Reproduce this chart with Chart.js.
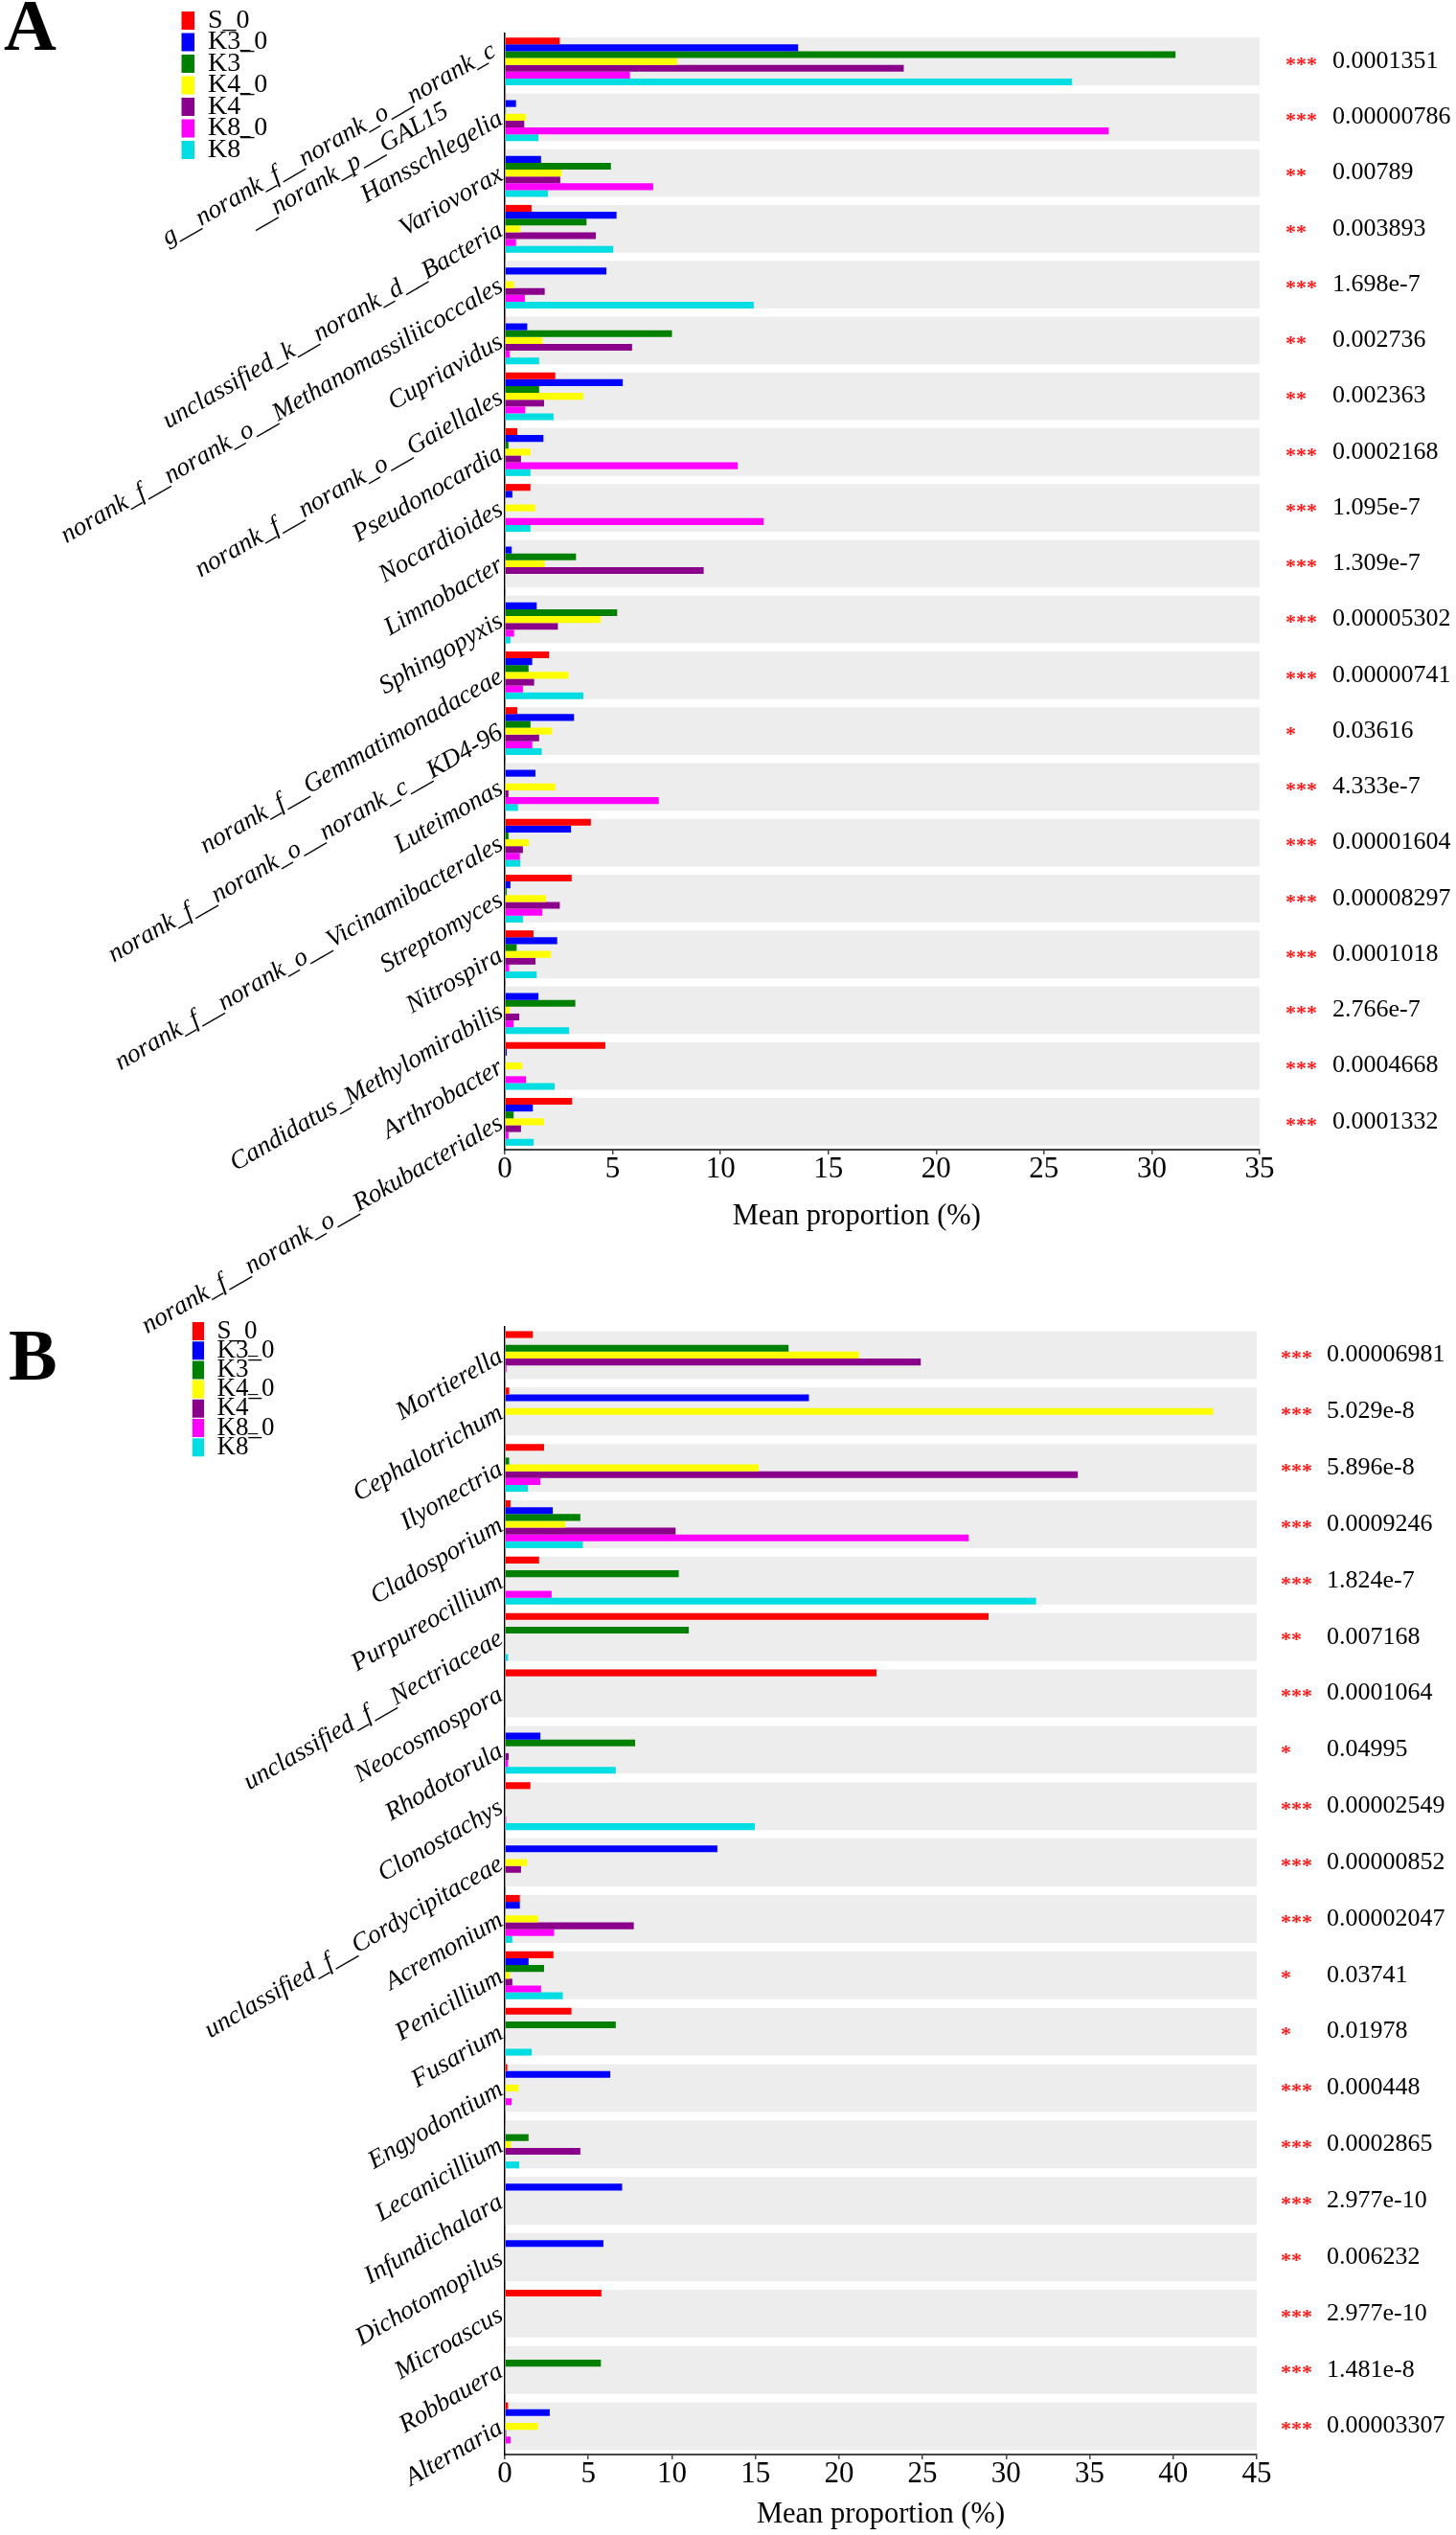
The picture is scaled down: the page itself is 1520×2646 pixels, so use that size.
<!DOCTYPE html>
<html><head><meta charset="utf-8">
<script src="https://cdn.jsdelivr.net/npm/chart.js@4.4.1/dist/chart.umd.min.js"></script>
<style>
html,body{margin:0;padding:0;background:#fff;}
#wrap{position:relative;width:1520px;height:2646px;overflow:hidden;background:#fff;}
canvas{position:absolute;left:0;}
</style></head><body>
<div id="wrap">
<canvas id="cA" width="1520" height="1400" style="top:0;width:1520px;height:1400px"></canvas>
<canvas id="cB" width="1520" height="1271" style="top:1375px;width:1520px;height:1271px"></canvas>
</div>
<script>
const SERIF = "'Liberation Serif', 'Times New Roman', serif";
const seriesNames = ['S_0', 'K3_0', 'K3\u203E', 'K4_0', 'K4\u203E', 'K8_0', 'K8\u203E'];
const seriesColors = ['#FF0000', '#0000FF', '#008000', '#FFFF00', '#8B008B', '#FF00FF', '#00DDE3'];

// ---------- Panel A (bacteria) ----------
const categoriesA = [
  ['g__norank_f__norank_o__norank_c', '__norank_p__GAL15\u00A0\u00A0\u00A0\u00A0\u00A0\u00A0\u00A0\u00A0\u00A0\u00A0\u00A0'],
  'Hansschlegelia', 'Variovorax', 'unclassified_k__norank_d__Bacteria',
  'norank_f__norank_o__Methanomassiliicoccales', 'Cupriavidus', 'norank_f__norank_o__Gaiellales',
  'Pseudonocardia', 'Nocardioides', 'Limnobacter', 'Sphingopyxis', 'norank_f__Gemmatimonadaceae',
  'norank_f__norank_o__norank_c__KD4-96', 'Luteimonas', 'norank_f__norank_o__Vicinamibacterales',
  'Streptomyces', 'Nitrospira', 'Candidatus_Methylomirabilis', 'Arthrobacter',
  'norank_f__norank_o__Rokubacteriales'
];
const s0A   = [2.55, 0.05, 0.02, 1.24, 0.03, 0.05, 2.34, 0.58, 1.19, 0.03, 0.03, 2.05, 0.58, 0.03, 3.99, 3.10, 1.33, 0.03, 4.66, 3.12];
const k30A  = [13.6, 0.52, 1.68, 5.18, 4.71, 1.04, 5.47, 1.79, 0.35, 0.32, 1.48, 1.27, 3.21, 1.42, 3.07, 0.26, 2.43, 1.56, 0.09, 1.30];
const k3A   = [31.1, 0.05, 4.92, 3.79, 0.03, 7.75, 1.59, 0.17, 0.00, 3.30, 5.21, 1.10, 1.19, 0.00, 0.17, 0.09, 0.55, 3.27, 0.00, 0.41];
const k40A  = [7.98, 0.98, 2.63, 0.72, 0.43, 1.74, 3.64, 1.19, 1.42, 1.85, 4.45, 2.95, 2.20, 2.34, 1.13, 1.91, 2.14, 0.23, 0.81, 1.82];
const k4A   = [18.5, 0.90, 2.57, 4.22, 1.85, 5.90, 1.82, 0.75, 0.00, 9.22, 2.46, 1.36, 1.59, 0.17, 0.84, 2.55, 1.42, 0.67, 0.00, 0.75];
const k80A  = [5.80, 28.0, 6.88, 0.52, 0.93, 0.23, 0.95, 10.8, 12.0, 0.00, 0.43, 0.84, 1.27, 7.14, 0.70, 1.74, 0.20, 0.41, 0.98, 0.17];
const k8A   = [26.3, 1.56, 2.00, 5.03, 11.54, 1.59, 2.26, 1.19, 1.19, 0.03, 0.26, 3.64, 1.71, 0.61, 0.72, 0.84, 1.48, 2.98, 2.31, 1.33];
const starsA = ['***', '***', '**', '**', '***', '**', '**', '***', '***', '***', '***', '***', '*', '***', '***', '***', '***', '***', '***', '***'];
const pvalsA = ['0.0001351', '0.00000786', '0.00789', '0.003893', '1.698e-7', '0.002736', '0.002363', '0.0002168', '1.095e-7', '1.309e-7',
  '0.00005302', '0.00000741', '0.03616', '4.333e-7', '0.00001604', '0.00008297', '0.0001018', '2.766e-7', '0.0004668', '0.0001332'];
const ticksA = [0, 5, 10, 15, 20, 25, 30, 35];

// ---------- Panel B (fungi) ----------
const categoriesB = [
  'Mortierella', 'Cephalotrichum', 'Ilyonectria', 'Cladosporium', 'Purpureocillium',
  'unclassified_f__Nectriaceae', 'Neocosmospora', 'Rhodotorula', 'Clonostachys',
  'unclassified_f__Cordycipitaceae', 'Acremonium', 'Penicillium', 'Fusarium', 'Engyodontium',
  'Lecanicillium', 'Infundichalara', 'Dichotomopilus', 'Microascus', 'Robbauera', 'Alternaria'
];
const s0B   = [1.68, 0.26, 2.35, 0.34, 2.05, 28.95, 22.24, 0.00, 1.53, 0.03, 0.90, 2.91, 3.99, 0.15, 0.03, 0.03, 0.03, 5.78, 0.03, 0.19];
const k30B  = [0.00, 18.2, 0.00, 2.87, 0.00, 0.00, 0.00, 2.13, 0.00, 12.72, 0.90, 1.42, 0.00, 6.31, 0.00, 7.02, 5.90, 0.00, 0.00, 2.69];
const k3B   = [16.98, 0.00, 0.26, 4.52, 10.41, 11.01, 0.00, 7.80, 0.00, 0.00, 0.05, 2.35, 6.64, 0.00, 1.42, 0.00, 0.00, 0.00, 5.75, 0.00];
const k40B  = [21.2, 42.39, 15.19, 3.62, 0.00, 0.00, 0.00, 0.00, 0.00, 1.35, 1.98, 0.30, 0.00, 0.82, 0.37, 0.00, 0.00, 0.00, 0.00, 1.98];
const k4B   = [24.89, 0.00, 34.29, 10.22, 0.00, 0.00, 0.00, 0.23, 0.00, 0.97, 7.72, 0.45, 0.03, 0.00, 4.52, 0.00, 0.00, 0.00, 0.00, 0.08];
const k80B  = [0.10, 0.00, 2.13, 27.76, 2.80, 0.00, 0.00, 0.19, 0.08, 0.00, 2.95, 2.17, 0.00, 0.41, 0.00, 0.00, 0.00, 0.00, 0.00, 0.34];
const k8B   = [0.00, 0.00, 1.38, 4.67, 31.79, 0.19, 0.00, 6.64, 14.96, 0.00, 0.45, 3.47, 1.61, 0.00, 0.86, 0.00, 0.00, 0.00, 0.00, 0.00];
const starsB = ['***', '***', '***', '***', '***', '**', '***', '*', '***', '***', '***', '*', '*', '***', '***', '***', '**', '***', '***', '***'];
const pvalsB = ['0.00006981', '5.029e-8', '5.896e-8', '0.0009246', '1.824e-7', '0.007168', '0.0001064', '0.04995', '0.00002549', '0.00000852',
  '0.00002047', '0.03741', '0.01978', '0.000448', '0.0002865', '2.977e-10', '0.006232', '2.977e-10', '1.481e-8', '0.00003307'];
const ticksB = [0, 5, 10, 15, 20, 25, 30, 35, 40, 45];

const NB = '\u00A0';
const LG_TITLE_H = 12; // spacer so legend items are not clipped at the legend box top
function makePanel(canvasId, g) {
  const xMax = g.ticks[g.ticks.length - 1];
  const datasets = g.series.map((vals, i) => ({
    label: seriesNames[i], data: vals, backgroundColor: seriesColors[i], borderWidth: 0,
    categoryPercentage: g.catPct, barPercentage: 1, order: 1, xAxisID: 'x', yAxisID: 'y'
  }));
  datasets.push({
    label: 'band', data: g.categories.map(() => xMax), backgroundColor: '#EDEDED', borderWidth: 0,
    grouped: false, categoryPercentage: g.catPct, barPercentage: 1, order: 10, xAxisID: 'x', yAxisID: 'y'
  });
  const lgPad = g.legend.pitch - g.legend.font;
  const lgLeft = g.legend.boxX - lgPad;
  const lgTop = g.legend.boxY - LG_TITLE_H - lgPad - Math.max((g.legend.font - g.legend.box) / 2, 0);
  const placer = {
    id: 'legendPlacer',
    afterLayout(chart) {
      const lg = chart.legend;
      if (!lg) return;
      lg.left = lgLeft; lg.top = lgTop; lg.width = 160; lg.height = 220;
      lg.right = lgLeft + 160; lg.bottom = lgTop + 220;
    }
  };
  const catAxisFit = (w) => (s) => { s.width = w; s.paddingTop = 0; s.paddingBottom = 0; s.paddingLeft = 0; s.paddingRight = 0; };
  const tPad = g.letterY - g.titleH / 2;
  return new Chart(document.getElementById(canvasId), {
    type: 'bar',
    data: { labels: g.categories, datasets },
    options: {
      indexAxis: 'y', responsive: false, animation: false, events: [],
      layout: { autoPadding: false, padding: { left: g.padLeft, right: 0, top: 0, bottom: 0 } },
      plugins: {
        tooltip: { enabled: false },
        title: {
          display: true, text: g.letter, align: 'start', color: '#000',
          font: { family: SERIF, size: 76, weight: 'bold', lineHeight: g.titleH / 76 },
          padding: { top: tPad, bottom: -tPad }
        },
        legend: {
          display: true, position: 'chartArea', align: 'start',
          title: { display: true, text: ' ', padding: 0, font: { family: SERIF, size: LG_TITLE_H, lineHeight: 1 } },
          labels: {
            boxWidth: g.legend.box, boxHeight: g.legend.box, padding: lgPad,
            font: { family: SERIF, size: g.legend.font }, color: '#000',
            filter: (it) => it.datasetIndex < seriesNames.length
          }
        }
      },
      scales: {
        x: {
          type: 'linear', position: 'bottom', min: 0, max: xMax,
          afterBuildTicks: (s) => { s.ticks = g.ticks.map(v => ({ value: v })); },
          ticks: { font: { family: SERIF, size: 31 }, color: '#000', padding: g.xTickPad, autoSkip: false, maxRotation: 0 },
          grid: { display: true, drawOnChartArea: false, drawTicks: true, tickLength: 5, color: '#444', lineWidth: 1.5 },
          border: { display: true, color: '#444', width: 2 },
          title: { display: true, text: 'Mean proportion (%)' + NB.repeat(g.titleShift), font: { family: SERIF, size: 30.5 }, color: '#000', padding: { top: 0, bottom: g.xTitlePad } },
          afterFit: (s) => { s.height = g.xAxisH; s.paddingLeft = 0; s.paddingRight = 0; }
        },
        y: {
          type: 'category', position: 'left', offset: true,
          ticks: { autoSkip: false, minRotation: 30, maxRotation: 30, padding: 4, color: '#000',
                   font: { family: SERIF, size: 27, style: 'italic', lineHeight: 1.1 } },
          grid: { display: false, drawTicks: false },
          border: { display: true, color: '#000', width: 1.5 },
          afterFit: catAxisFit(g.yAxisW)
        },
        ys: {
          type: 'category', position: 'right', labels: g.stars, offset: true, weight: 0,
          ticks: { autoSkip: false, padding: g.starPad, labelOffset: 4, color: '#FF1a1a', font: { family: SERIF, size: 22, weight: 'bold' } },
          grid: { display: false, drawTicks: false }, border: { display: false },
          afterFit: catAxisFit(g.starW)
        },
        yp: {
          type: 'category', position: 'right', labels: g.pvals, offset: true, weight: 1,
          ticks: { autoSkip: false, padding: 0, color: '#000', font: { family: SERIF, size: 26 } },
          grid: { display: false, drawTicks: false }, border: { display: false },
          afterFit: catAxisFit(1520 - g.plotRight - g.starW)
        }
      }
    },
    plugins: [placer]
  });
}

makePanel('cA', {
  letter: 'A', categories: categoriesA, series: [s0A, k30A, k3A, k40A, k4A, k80A, k8A],
  stars: starsA, pvals: pvalsA, ticks: ticksA, catPct: 0.858,
  padLeft: 4, yAxisW: 523, plotRight: 1315, starW: 76, starPad: 27,
  titleH: 35, letterY: 32, xAxisH: 200, xTickPad: -3, xTitlePad: 112, titleShift: 7,
  legend: { boxX: 184, boxY: 12, box: 19, font: 28, pitch: 22.5 }
});

makePanel('cB', {
  letter: 'B', categories: categoriesB, series: [s0B, k30B, k3B, k40B, k4B, k80B, k8B],
  stars: starsB, pvals: pvalsB, ticks: ticksB, catPct: 0.849,
  padLeft: 9, yAxisW: 518, plotRight: 1312, starW: 73, starPad: 25,
  titleH: 10, letterY: 45, xAxisH: 84, xTickPad: -3, xTitlePad: 3, titleShift: 0,
  legend: { boxX: 194, boxY: 5, box: 19, font: 27, pitch: 20.2 }
});
</script>
</body></html>
